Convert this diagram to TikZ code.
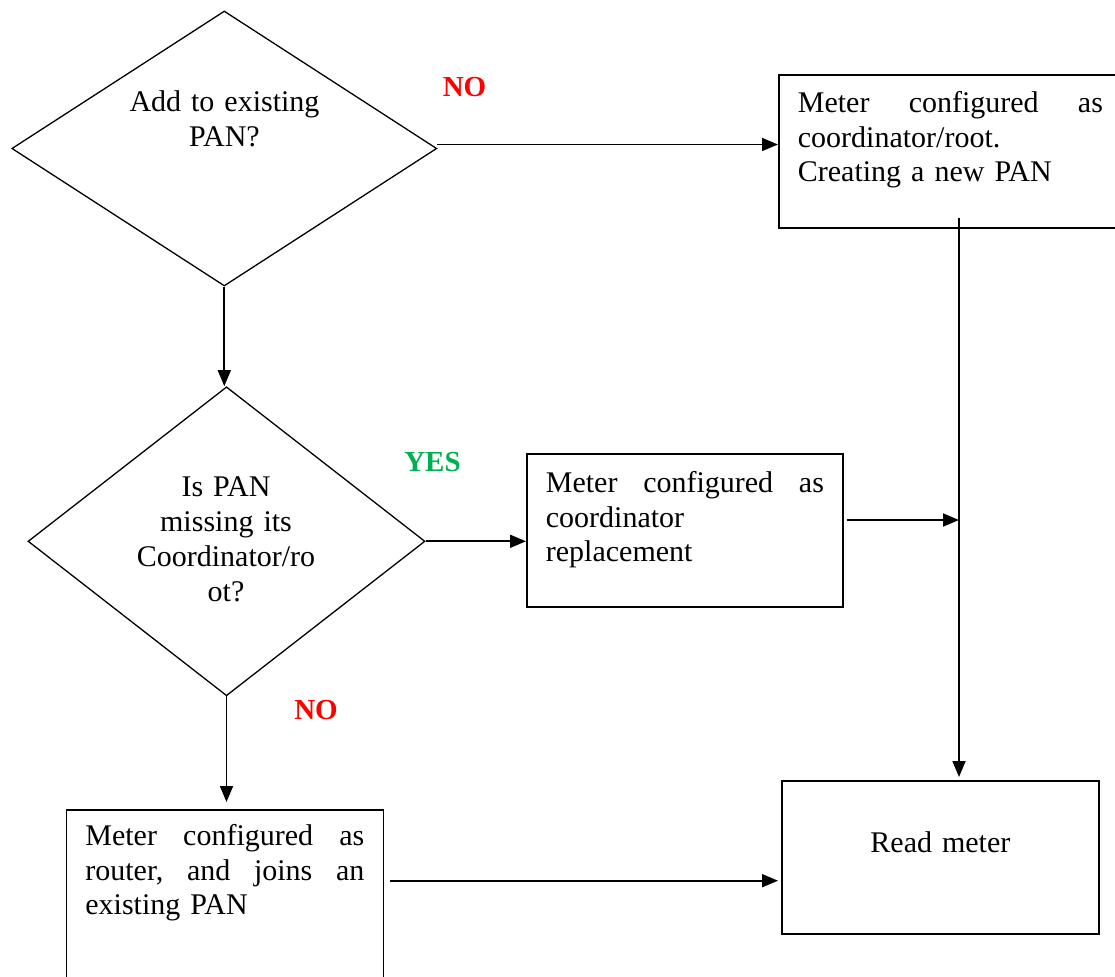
\documentclass[tikz,border=0pt]{standalone}
\usepackage{fontspec}
\setmainfont{Liberation Serif}
\usetikzlibrary{shapes.geometric,arrows.meta}
\definecolor{nored}{RGB}{255,0,0}
\definecolor{yesgreen}{RGB}{0,176,80}

\tikzset{
  box/.style={draw, line width=1.8pt, anchor=north west, inner xsep=19pt, inner ysep=0pt,
    align=left, font=\fontsize{30}{34.5}\selectfont},
  decision/.style={draw, diamond, line width=1.3pt, inner sep=0pt},
  dtext/.style={anchor=base, text width=300pt, align=center, inner sep=0pt,
    font=\fontsize{30}{35}\selectfont},
  answer/.style={font=\fontsize{29}{35}\selectfont\bfseries},
  arr/.style={line width=1.7pt, -{Triangle[length=16pt,width=13pt]}}
}

\begin{document}
\begin{tikzpicture}[x=1pt,y=-1pt]
\clip (0,0) rectangle (1115,976);

% decisions
\node[decision, minimum width=425pt, minimum height=275pt] (d1) at (224.3,148.5) {};
\node[dtext] (d1txt) at (224.5,111.7) {Add to existing\\PAN?};
\node[decision, minimum width=397pt, minimum height=309pt] (d2) at (226.5,541.3) {};
\node[dtext] (d2txt) at (226,496.7) {Is PAN\\missing its\\Coordinator/ro\\ot?};

% boxes
\node[box, text width=305pt, text height=38pt, text depth=115pt] (b1) at (778,74)
  {Meter\hfill configured\hfill as\\coordinator/root.\\Creating a new PAN};
\node[box, text width=278pt, text height=39pt, text depth=114pt] (b2) at (526,452.7)
  {Meter\hfill configured\hfill as\\coordinator\\replacement};
\node[box, text width=279pt, text height=36pt, text depth=160pt] (b3) at (65.5,809)
  {Meter\hfill configured\hfill as\\router,\hfill and\hfill joins\hfill an\\existing PAN};
\node[box, align=center, text width=279pt, text height=72pt, text depth=81pt] (rm) at (781,780)
  {Read meter};

% answers
\node[answer, text=nored] (no1) at (464.5,87) {NO};
\node[answer, text=yesgreen] (yes) at (432.5,462) {YES};
\node[answer, text=nored] (no2) at (316,710) {NO};

% connectors
\coordinate (a1) at (437,144.5);
\coordinate (a2) at (959,218);
\coordinate (jn) at (959,520);
\coordinate (a3) at (390,880.7);
\draw[arr] (a1) -- (a1 -| b1.west);
\draw[arr] (d1.south) -- (d1.south |- d2.north);
\draw[arr] (d2.east) -- (d2.east -| b2.west);
\draw[arr, shorten <=3pt] (b2.east |- jn) -- (jn);
\draw[arr, shorten >=3pt] (a2) -- (a2 |- rm.north);
\draw[arr, shorten >=7pt] (d2.south) -- (d2.south |- b3.north);
\draw[arr, shorten >=3pt] (a3) -- (a3 -| rm.west);

\end{tikzpicture}
\end{document}
